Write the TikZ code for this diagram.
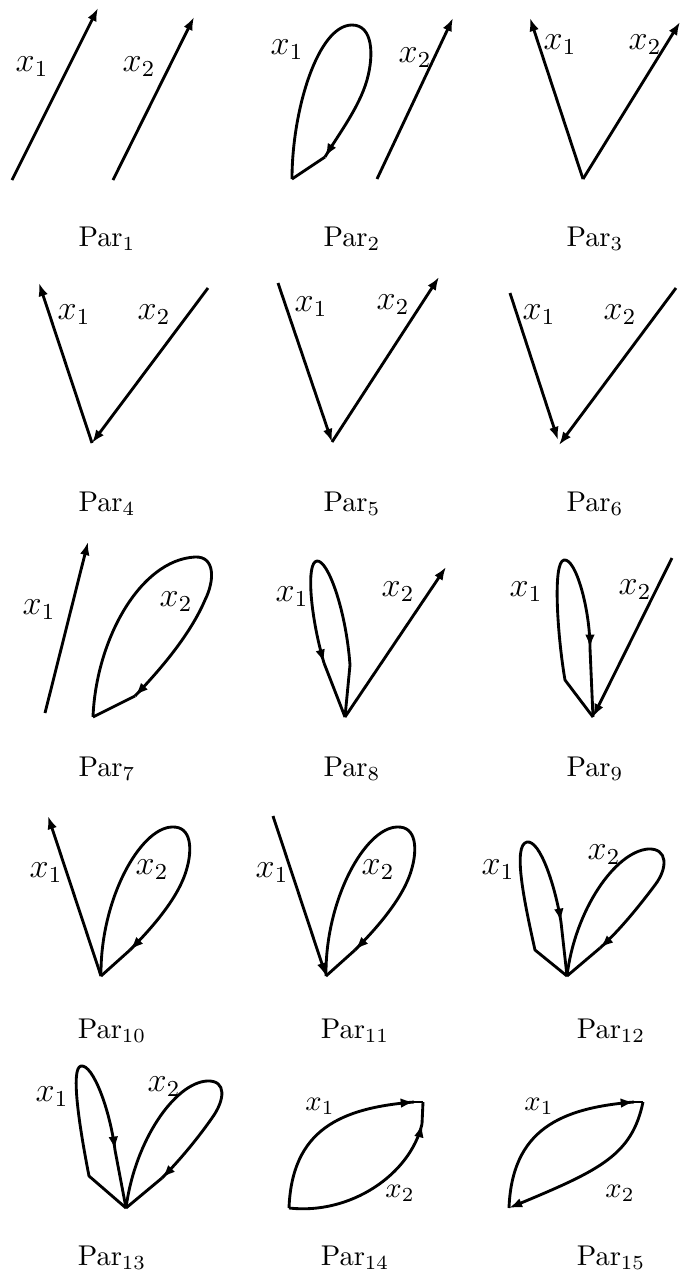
\documentclass[tikz,border=0pt]{standalone}
\usepackage{amsmath}
\usetikzlibrary{arrows.meta,decorations.markings}
\tikzset{
  >={Latex[length=4.6pt,width=3.4pt]},
  strand/.style={line width=1pt, line join=round},
  vec/.style={strand, ->},
  tipend/.style={strand, postaction={decorate},
    decoration={markings, mark=at position 0.999 with {\arrow{>}}}},
  xlab/.style={font=\large, inner sep=0pt},
  xlabsm/.style={inner sep=0pt},
  parlab/.style={inner sep=0pt}
}
\newcommand{\parlabel}[4]{\node[parlab] (#1) at (#2,#3) {$\mathrm{Par}_{#4}$};}

\begin{document}
\begin{tikzpicture}[x=0.35pt,y=-0.35pt]
\useasboundingbox (0,0) rectangle (682,1277);
% row 1
\coordinate (p1a) at (12,180);
\coordinate (p1b) at (98,8);
\coordinate (p1c) at (113,180);
\coordinate (p1d) at (194,17);
\draw[vec] (p1a) -- (p1b);
\draw[vec] (p1c) -- (p1d);
\node[xlab] (p1x1) at (32,67) {$x_1$};
\node[xlab] (p1x2) at (139,67) {$x_2$};
\parlabel{par1}{107}{239}{1}

\coordinate (p2v) at (292,179);
\coordinate (p2k) at (325,157);
\coordinate (p2c) at (377,179);
\coordinate (p2d) at (453,18);
\draw[tipend] (p2v) .. controls (292,110) and (318,25) .. (352,25)
  .. controls (373,25) and (374,55) .. (367,80)
  .. controls (359,108) and (338,135) .. (p2k);
\draw[strand] (p2k) -- (p2v);
\draw[vec] (p2c) -- (p2d);
\node[xlab] (p2x1) at (287,50) {$x_1$};
\node[xlab] (p2x2) at (415,58) {$x_2$};
\parlabel{par2}{352}{239}{2}

\coordinate (p3v) at (583,179);
\coordinate (p3a) at (530,18);
\coordinate (p3b) at (680,22);
\draw[vec] (p3v) -- (p3a);
\draw[vec] (p3v) -- (p3b);
\node[xlab] (p3x1) at (560,45) {$x_1$};
\node[xlab] (p3x2) at (645,45) {$x_2$};
\parlabel{par3}{595}{239}{3}

% row 2
\coordinate (p4v) at (92,443);
\coordinate (p4a) at (39,283);
\coordinate (p4b) at (208,288);
\draw[vec] (p4v) -- (p4a);
\draw[vec] (p4b) -- (p4v);
\node[xlab] (p4x1) at (74,315) {$x_1$};
\node[xlab] (p4x2) at (154,315) {$x_2$};
\parlabel{par4}{107}{504}{4}

\coordinate (p5v) at (332,442);
\coordinate (p5a) at (278,283);
\coordinate (p5b) at (439,277);
\draw[vec] (p5a) -- (p5v);
\draw[vec] (p5v) -- (p5b);
\node[xlab] (p5x1) at (311,307) {$x_1$};
\node[xlab] (p5x2) at (393,305) {$x_2$};
\parlabel{par5}{352}{504}{5}

\coordinate (p6a) at (510,293);
\coordinate (p6b) at (558,440);
\coordinate (p6c) at (676,288);
\coordinate (p6d) at (559,445);
\draw[vec] (p6a) -- (p6b);
\draw[vec] (p6c) -- (p6d);
\node[xlab] (p6x1) at (539,315) {$x_1$};
\node[xlab] (p6x2) at (620,315) {$x_2$};
\parlabel{par6}{595}{504}{6}

% row 3
\coordinate (p7a) at (45,713);
\coordinate (p7b) at (88,542);
\coordinate (p7v) at (93,717);
\coordinate (p7k) at (135,696);
\draw[vec] (p7a) -- (p7b);
\draw[tipend] (p7v) .. controls (96,640) and (140,560) .. (195,557)
  .. controls (215,556) and (215,580) .. (205,600)
  .. controls (190,635) and (160,670) .. (p7k);
\draw[strand] (p7k) -- (p7v);
\node[xlab] (p7x1) at (39,610) {$x_1$};
\node[xlab] (p7x2) at (176,602) {$x_2$};
\parlabel{par7}{107}{769}{7}

\coordinate (p8v) at (345,717);
\coordinate (p8k) at (350,665);
\coordinate (p8m) at (324,663);
\coordinate (p8b) at (446,567);
\draw[tipend] (p8v) -- (p8k) .. controls (346,610) and (328,560) .. (317,561)
  .. controls (306,562) and (310,615) .. (p8m);
\draw[strand] (p8m) -- (p8v);
\draw[vec] (p8v) -- (p8b);
\node[xlab] (p8x1) at (292,597) {$x_1$};
\node[xlab] (p8x2) at (398,592) {$x_2$};
\parlabel{par8}{352}{769}{8}

\coordinate (p9v) at (593,717);
\coordinate (p9k) at (565,680);
\coordinate (p9m) at (590,648);
\coordinate (p9b) at (672,558);
\draw[tipend] (p9v) -- (p9k) .. controls (558,640) and (552,562) .. (564,560)
  .. controls (576,558) and (590,610) .. (p9m);
\draw[strand] (p9m) -- (p9v);
\draw[vec] (p9b) -- (p9v);
\node[xlab] (p9x1) at (526,592) {$x_1$};
\node[xlab] (p9x2) at (635,590) {$x_2$};
\parlabel{par9}{595}{769}{9}

% row 4
\coordinate (p10v) at (101,976);
\coordinate (p10a) at (48,816);
\coordinate (p10k) at (130,950);
\draw[vec] (p10v) -- (p10a);
\draw[tipend] (p10v) .. controls (100,900) and (140,828) .. (172,827)
  .. controls (192,826) and (192,850) .. (187,868)
  .. controls (180,895) and (155,925) .. (p10k);
\draw[strand] (p10k) -- (p10v);
\node[xlab] (p10x1) at (46,873) {$x_1$};
\node[xlab] (p10x2) at (152,870) {$x_2$};
\parlabel{par10}{112}{1031}{10}

\coordinate (p11v) at (326,976);
\coordinate (p11a) at (273,816);
\coordinate (p11k) at (355,950);
\draw[vec] (p11a) -- (p11v);
\draw[tipend] (p11v) .. controls (325,900) and (365,828) .. (397,827)
  .. controls (417,826) and (417,850) .. (412,868)
  .. controls (405,895) and (380,925) .. (p11k);
\draw[strand] (p11k) -- (p11v);
\node[xlab] (p11x1) at (272,873) {$x_1$};
\node[xlab] (p11x2) at (378,870) {$x_2$};
\parlabel{par11}{355}{1031}{11}

\coordinate (p12v) at (567,976);
\coordinate (p12k) at (535,950);
\coordinate (p12m) at (561,922);
\coordinate (p12n) at (600,948);
\draw[tipend] (p12v) -- (p12k) .. controls (525,905) and (512,845) .. (527,842)
  .. controls (540,840) and (555,885) .. (p12m);
\draw[strand] (p12m) -- (p12v);
\draw[tipend] (p12v) .. controls (575,910) and (615,852) .. (648,849)
  .. controls (668,848) and (668,868) .. (655,885)
  .. controls (640,905) and (620,930) .. (p12n);
\draw[strand] (p12n) -- (p12v);
\node[xlab] (p12x1) at (498,870) {$x_1$};
\node[xlab] (p12x2) at (604,855) {$x_2$};
\parlabel{par12}{611}{1031}{12}

% row 5
\coordinate (p13v) at (126,1208);
\coordinate (p13k) at (89,1176);
\coordinate (p13m) at (115,1150);
\coordinate (p13n) at (162,1178);
\draw[tipend] (p13v) -- (p13k) .. controls (80,1130) and (70,1068) .. (81,1066)
  .. controls (93,1064) and (110,1110) .. (p13m);
\draw[strand] (p13m) -- (p13v);
\draw[tipend] (p13v) .. controls (135,1140) and (175,1083) .. (207,1081)
  .. controls (227,1080) and (225,1100) .. (212,1118)
  .. controls (198,1138) and (180,1160) .. (p13n);
\draw[strand] (p13n) -- (p13v);
\node[xlab] (p13x1) at (52,1097) {$x_1$};
\node[xlab] (p13x2) at (164,1087) {$x_2$};
\parlabel{par13}{112}{1258}{13}

\coordinate (p14o) at (289,1208);
\coordinate (p14c) at (423,1102);
\coordinate (p14a) at (414,1102);
\coordinate (p14b) at (422,1124);
\draw[tipend] (p14o) .. controls (292,1130) and (340,1108) .. (p14a);
\draw[strand] (p14a) -- (p14c);
\draw[tipend] (p14o) .. controls (350,1215) and (410,1175) .. (p14b);
\draw[strand] (p14b) -- (p14c);
\node[xlabsm] (p14x1) at (320,1106) {$x_1$};
\node[xlabsm] (p14x2) at (400,1193) {$x_2$};
\parlabel{par14}{355}{1258}{14}

\coordinate (p15o) at (509,1208);
\coordinate (p15c) at (643,1102);
\coordinate (p15a) at (634,1102);
\draw[tipend] (p15o) .. controls (512,1130) and (560,1108) .. (p15a);
\draw[strand] (p15a) -- (p15c);
\draw[vec] (p15c) .. controls (632,1155) and (600,1170) .. (p15o);
\node[xlabsm] (p15x1) at (539,1106) {$x_1$};
\node[xlabsm] (p15x2) at (620,1193) {$x_2$};
\parlabel{par15}{611}{1258}{15}
\end{tikzpicture}
\end{document}
